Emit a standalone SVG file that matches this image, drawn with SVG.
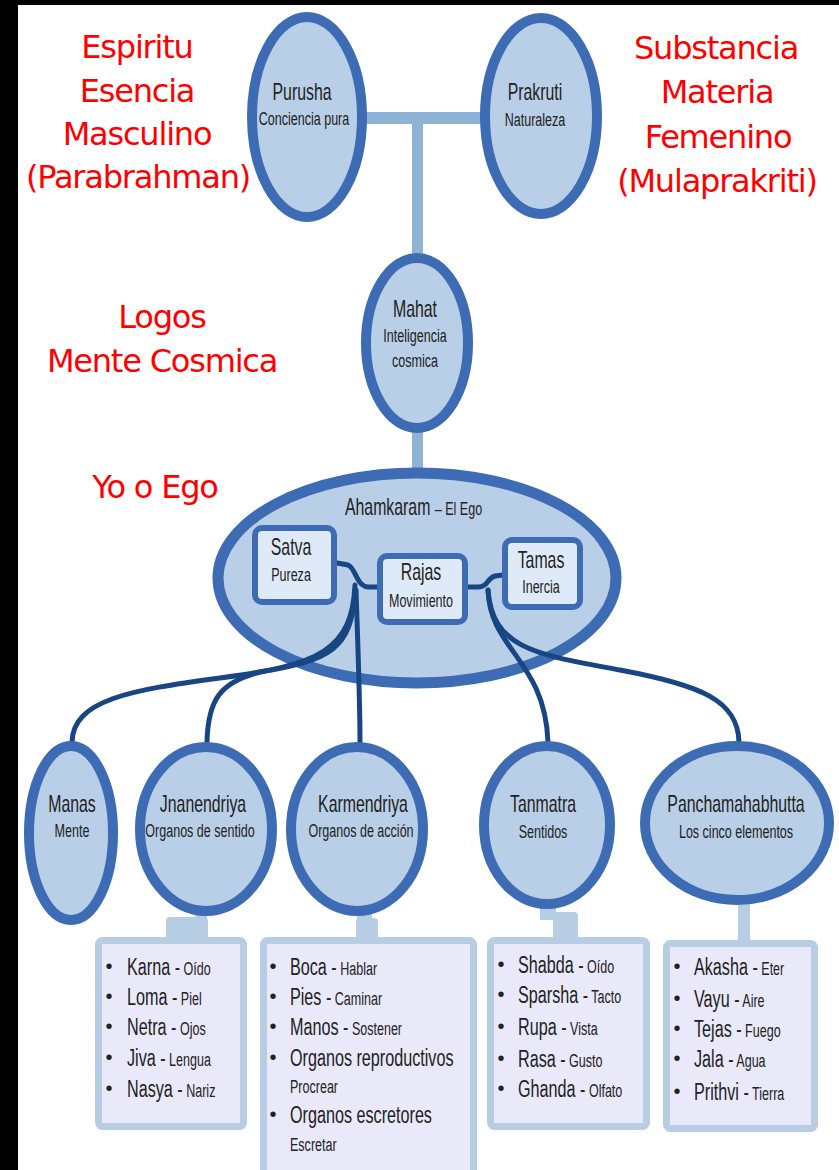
<svg xmlns="http://www.w3.org/2000/svg" width="839" height="1170" viewBox="0 0 839 1170">
<style>
.bg{fill:#ffffff}
.frame{fill:#000000}
.ell{fill:#b9cfe7;stroke:#3d6cb5;stroke-width:10}
.ego{fill:#b9cfe7;stroke:#3d6cb5;stroke-width:11}
.guna{fill:#dfeaf8;stroke:#3d6cb5;stroke-width:6}
.bar{fill:#8fb3d4}
.tab{fill:#b7cde4}
.box{fill:#e9e9f9;stroke:#b7cde4;stroke-width:7}
.con path{fill:none;stroke:#174682;stroke-width:5;stroke-linecap:round}
.t{font-family:"Liberation Sans",Arial,sans-serif;fill:#222222}
.m{text-anchor:middle}
.h{font-size:24px}
.s{font-size:19px}
.lb{font-size:24.5px}
.bu{font-family:"Liberation Sans",Arial,sans-serif;font-size:20px;fill:#222222;text-anchor:middle}
.red{font-family:"DejaVu Sans",Verdana,sans-serif;font-size:32px;fill:#ff0000;text-anchor:middle;letter-spacing:-1.2px}
</style>
<rect class="bg" x="0" y="0" width="839" height="1170"/>
<rect class="frame" x="0" y="0" width="18" height="1170"/>
<rect class="frame" x="0" y="0" width="839" height="5"/>

<g id="labels">
<text class="red" x="137" y="58">Espiritu</text>
<text class="red" x="137" y="102">Esencia</text>
<text class="red" x="137" y="145">Masculino</text>
<text class="red" x="138" y="188">(Parabrahman)</text>
<text class="red" x="716" y="59">Substancia</text>
<text class="red" x="717" y="103">Materia</text>
<text class="red" x="718" y="148">Femenino</text>
<text class="red" x="717" y="192">(Mulaprakriti)</text>
<text class="red" x="162" y="328">Logos</text>
<text class="red" x="162" y="372">Mente Cosmica</text>
<text class="red" x="155" y="498">Yo o Ego</text>
</g>

<g id="bars">
<rect class="bar" x="360" y="112" width="125" height="12"/>
<rect class="bar" x="412" y="118" width="11" height="140"/>
<rect class="bar" x="412" y="430" width="11" height="42"/>
<rect class="tab" x="195" y="904" width="12" height="18"/>
<rect class="tab" x="166" y="917" width="42" height="26" rx="4"/>
<rect class="tab" x="357" y="906" width="15" height="18"/>
<rect class="tab" x="356" y="918" width="22" height="25" rx="4"/>
<rect class="tab" x="540" y="900" width="16" height="20"/>
<rect class="tab" x="553" y="912" width="25" height="31" rx="4"/>
<rect class="tab" x="738" y="900" width="12" height="45"/>
</g>

<g id="purusha">
<ellipse class="ell" cx="307" cy="117" rx="55" ry="100"/>
<text class="t m h" transform="translate(302 100) scale(.66 1)">Purusha</text>
<text class="t m s" transform="translate(304 125) scale(.66 1)">Conciencia pura</text>
</g>
<g id="prakruti">
<ellipse class="ell" cx="541" cy="116" rx="56" ry="98"/>
<text class="t m h" transform="translate(535 100) scale(.66 1)">Prakruti</text>
<text class="t m s" transform="translate(535 126) scale(.66 1)">Naturaleza</text>
</g>
<g id="mahat">
<ellipse class="ell" cx="417" cy="343" rx="51" ry="85"/>
<text class="t m h" transform="translate(415 317) scale(.66 1)">Mahat</text>
<text class="t m s" transform="translate(415 342) scale(.66 1)">Inteligencia</text>
<text class="t m s" transform="translate(415 367) scale(.66 1)">cosmica</text>
</g>

<g id="ahamkaram">
<ellipse class="ego" cx="417" cy="578" rx="199" ry="105"/>
<text class="t" transform="translate(345 515) scale(.66 1)"><tspan class="h">Ahamkaram </tspan><tspan class="s">– El Ego</tspan></text>
</g>

<g id="connectors" class="con">
<path d="M337 563 L348 565 C356 568 356 586 368 587 L377 587"/>
<path d="M503 575 L495 576 C487 578 488 587 478 587 L468 587"/>
<path d="M355 585 C352 650 320 665 220 678 C130 690 73 700 72 742"/>
<path d="M355 590 C352 650 330 660 260 672 C220 682 208 700 207 742"/>
<path d="M356 590 C358 650 360 700 360 742"/>
<path d="M488 590 C490 650 545 660 548 742"/>
<path d="M488 590 C492 650 540 655 620 670 C700 685 738 700 739 742"/>
</g>

<g id="satva">
<rect class="guna" x="255" y="528" width="79" height="74" rx="7"/>
<text class="t m h" transform="translate(291 555) scale(.66 1)">Satva</text>
<text class="t m s" transform="translate(291 581) scale(.66 1)">Pureza</text>
</g>
<g id="rajas">
<rect class="guna" x="380" y="556" width="85" height="66" rx="7"/>
<text class="t m h" transform="translate(421 580) scale(.66 1)">Rajas</text>
<text class="t m s" transform="translate(421 607) scale(.66 1)">Movimiento</text>
</g>
<g id="tamas">
<rect class="guna" x="505" y="540" width="75" height="67" rx="7"/>
<text class="t m h" transform="translate(541 568) scale(.66 1)">Tamas</text>
<text class="t m s" transform="translate(541 593) scale(.66 1)">Inercia</text>
</g>

<g id="manas">
<ellipse class="ell" cx="71" cy="833" rx="42" ry="87"/>
<text class="t m h" transform="translate(72 812) scale(.66 1)">Manas</text>
<text class="t m s" transform="translate(72 837) scale(.66 1)">Mente</text>
</g>
<g id="jnanendriya">
<ellipse class="ell" cx="206" cy="829" rx="66" ry="82"/>
<text class="t m h" transform="translate(203 812) scale(.66 1)">Jnanendriya</text>
<text class="t m s" transform="translate(200 837) scale(.66 1)">Organos de sentido</text>
</g>
<g id="karmendriya">
<ellipse class="ell" cx="357" cy="829" rx="66" ry="82"/>
<text class="t m h" transform="translate(363 812) scale(.66 1)">Karmendriya</text>
<text class="t m s" transform="translate(361 837) scale(.66 1)">Organos de acción</text>
</g>
<g id="tanmatra">
<ellipse class="ell" cx="547" cy="825" rx="63" ry="79"/>
<text class="t m h" transform="translate(543 812) scale(.66 1)">Tanmatra</text>
<text class="t m s" transform="translate(543 838) scale(.66 1)">Sentidos</text>
</g>
<g id="panchamahabhutta">
<ellipse class="ell" cx="737" cy="823" rx="92" ry="77"/>
<text class="t m h" transform="translate(736 812) scale(.66 1)">Panchamahabhutta</text>
<text class="t m s" transform="translate(736 838) scale(.66 1)">Los cinco elementos</text>
</g>

<g id="list-jnanendriya">
<rect class="box" x="98.5" y="940.5" width="145" height="186" rx="4"/>
<text class="bu" x="109" y="973">•</text>
<text class="bu" x="109" y="1003">•</text>
<text class="bu" x="109" y="1033">•</text>
<text class="bu" x="109" y="1064">•</text>
<text class="bu" x="109" y="1095">•</text>
<text class="t" transform="translate(127 975) scale(.66 1)"><tspan class="lb">Karna -</tspan><tspan class="s"> Oído</tspan></text>
<text class="t" transform="translate(127 1005) scale(.66 1)"><tspan class="lb">Loma -</tspan><tspan class="s"> Piel</tspan></text>
<text class="t" transform="translate(127 1035) scale(.66 1)"><tspan class="lb">Netra -</tspan><tspan class="s"> Ojos</tspan></text>
<text class="t" transform="translate(127 1066) scale(.66 1)"><tspan class="lb">Jiva -</tspan><tspan class="s"> Lengua</tspan></text>
<text class="t" transform="translate(127 1097) scale(.66 1)"><tspan class="lb">Nasya -</tspan><tspan class="s"> Nariz</tspan></text>
</g>
<g id="list-karmendriya">
<rect class="box" x="263.5" y="940.5" width="210" height="245" rx="4"/>
<text class="bu" x="273" y="973">•</text>
<text class="bu" x="273" y="1003">•</text>
<text class="bu" x="273" y="1033">•</text>
<text class="bu" x="273" y="1064">•</text>
<text class="bu" x="273" y="1121">•</text>
<text class="t" transform="translate(290 975) scale(.66 1)"><tspan class="lb">Boca -</tspan><tspan class="s"> Hablar</tspan></text>
<text class="t" transform="translate(290 1005) scale(.66 1)"><tspan class="lb">Pies -</tspan><tspan class="s"> Caminar</tspan></text>
<text class="t" transform="translate(290 1035) scale(.66 1)"><tspan class="lb">Manos -</tspan><tspan class="s"> Sostener</tspan></text>
<text class="t lb" transform="translate(290 1066) scale(.66 1)">Organos reproductivos</text>
<text class="t s" transform="translate(290 1093) scale(.66 1)">Procrear</text>
<text class="t lb" transform="translate(290 1123) scale(.66 1)">Organos escretores</text>
<text class="t s" transform="translate(290 1151) scale(.66 1)">Escretar</text>
</g>
<g id="list-tanmatra">
<rect class="box" x="490.5" y="940.5" width="156" height="186" rx="4"/>
<text class="bu" x="501" y="971">•</text>
<text class="bu" x="501" y="1001">•</text>
<text class="bu" x="501" y="1033">•</text>
<text class="bu" x="501" y="1065">•</text>
<text class="bu" x="501" y="1095">•</text>
<text class="t" transform="translate(518 973) scale(.66 1)"><tspan class="lb">Shabda -</tspan><tspan class="s"> Oído</tspan></text>
<text class="t" transform="translate(518 1003) scale(.66 1)"><tspan class="lb">Sparsha -</tspan><tspan class="s"> Tacto</tspan></text>
<text class="t" transform="translate(518 1035) scale(.66 1)"><tspan class="lb">Rupa -</tspan><tspan class="s"> Vista</tspan></text>
<text class="t" transform="translate(518 1067) scale(.66 1)"><tspan class="lb">Rasa -</tspan><tspan class="s"> Gusto</tspan></text>
<text class="t" transform="translate(518 1097) scale(.66 1)"><tspan class="lb">Ghanda -</tspan><tspan class="s"> Olfato</tspan></text>
</g>
<g id="list-panchamahabhutta">
<rect class="box" x="666.5" y="943.5" width="148" height="185" rx="4"/>
<text class="bu" x="677" y="973">•</text>
<text class="bu" x="677" y="1005">•</text>
<text class="bu" x="677" y="1035">•</text>
<text class="bu" x="677" y="1065">•</text>
<text class="bu" x="677" y="1098">•</text>
<text class="t" transform="translate(694 975) scale(.66 1)"><tspan class="lb">Akasha -</tspan><tspan class="s"> Eter</tspan></text>
<text class="t" transform="translate(694 1007) scale(.66 1)"><tspan class="lb">Vayu -</tspan><tspan class="s"> Aire</tspan></text>
<text class="t" transform="translate(694 1037) scale(.66 1)"><tspan class="lb">Tejas -</tspan><tspan class="s"> Fuego</tspan></text>
<text class="t" transform="translate(694 1067) scale(.66 1)"><tspan class="lb">Jala -</tspan><tspan class="s"> Agua</tspan></text>
<text class="t" transform="translate(694 1100) scale(.66 1)"><tspan class="lb">Prithvi -</tspan><tspan class="s"> Tierra</tspan></text>
</g>
</svg>
